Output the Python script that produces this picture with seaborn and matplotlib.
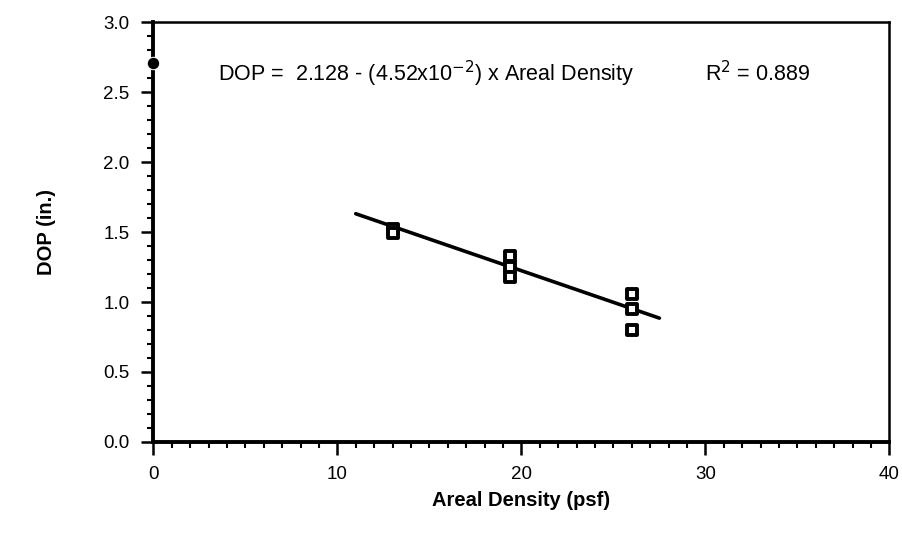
import matplotlib
matplotlib.use("Agg")
from matplotlib import pyplot as plt
import matplotlib.ticker as mtick
import numpy as np
import pandas as pd
import seaborn as sns

# measured points (areal density in psf, DOP in inches)
density = [13.0, 13.0, 19.4, 19.4, 19.4, 26.0, 26.0, 26.0]
dop = [1.52, 1.49, 1.33, 1.25, 1.18, 1.06, 0.95, 0.80]

# baseline point at zero areal density
base_density = [0.0]
base_dop = [2.71]

# fitted line
intercept = 2.128
slope = -4.52e-2
fit_range = [11.0, 27.5]

sns.set_style("ticks")
plt.rcParams['font.family'] = ['Liberation Sans', 'DejaVu Sans']
plt.rcParams['text.color'] = 'black'
plt.rcParams['axes.labelcolor'] = 'black'
plt.rcParams['axes.edgecolor'] = 'black'

df = pd.DataFrame({"density": density, "dop": dop})
fit_x = np.array(fit_range)
fit_df = pd.DataFrame({"density": fit_x, "dop": intercept + slope * fit_x})

f = plt.figure(figsize=(9.02, 5.39), dpi=100)
ax = f.add_axes([0.170, 0.180, 0.816, 0.779])

sns.lineplot(data=fit_df, x="density", y="dop", color="black", linewidth=2.6, ax=ax)
sns.scatterplot(data=df, x="density", y="dop", marker="s", s=60, facecolor="white",
                edgecolor="black", linewidth=2.8, ax=ax, zorder=3)
sns.scatterplot(x=base_density, y=base_dop, marker="o", s=80, color="black",
                ax=ax, zorder=4, clip_on=False)

ax.set_xlim(0, 40)
ax.set_ylim(0, 3.0)
ax.xaxis.set_major_locator(mtick.MultipleLocator(10))
ax.xaxis.set_minor_locator(mtick.MultipleLocator(1))
ax.yaxis.set_major_locator(mtick.MultipleLocator(0.5))
ax.yaxis.set_minor_locator(mtick.MultipleLocator(0.1))
ax.yaxis.set_major_formatter(mtick.FormatStrFormatter('%.1f'))

ax.tick_params(which="major", direction="out", length=9, width=1.8, labelsize=13.5, pad=8, colors="black")
ax.tick_params(which="minor", direction="out", length=4.5, width=1.5, colors="black")

for side in ["left", "bottom"]:
    ax.spines[side].set_linewidth(2.8)
for side in ["top", "right"]:
    ax.spines[side].set_visible(True)
    ax.spines[side].set_linewidth(1.8)

ax.set_xlabel("Areal Density (psf)", fontsize=14.5, fontweight="bold", labelpad=6)
ax.set_ylabel("DOP (in.)", fontsize=14.5, fontweight="bold", labelpad=34)

ax.text(3.5, 2.63, r"DOP =  2.128 - (4.52x10$^{-2}$) x Areal Density", fontsize=15.5,
        va="center", ha="left")
ax.text(30.0, 2.63, r"R$^2$ = 0.889", fontsize=15.5, va="center", ha="left")

plt.savefig("out.png", dpi=100)
